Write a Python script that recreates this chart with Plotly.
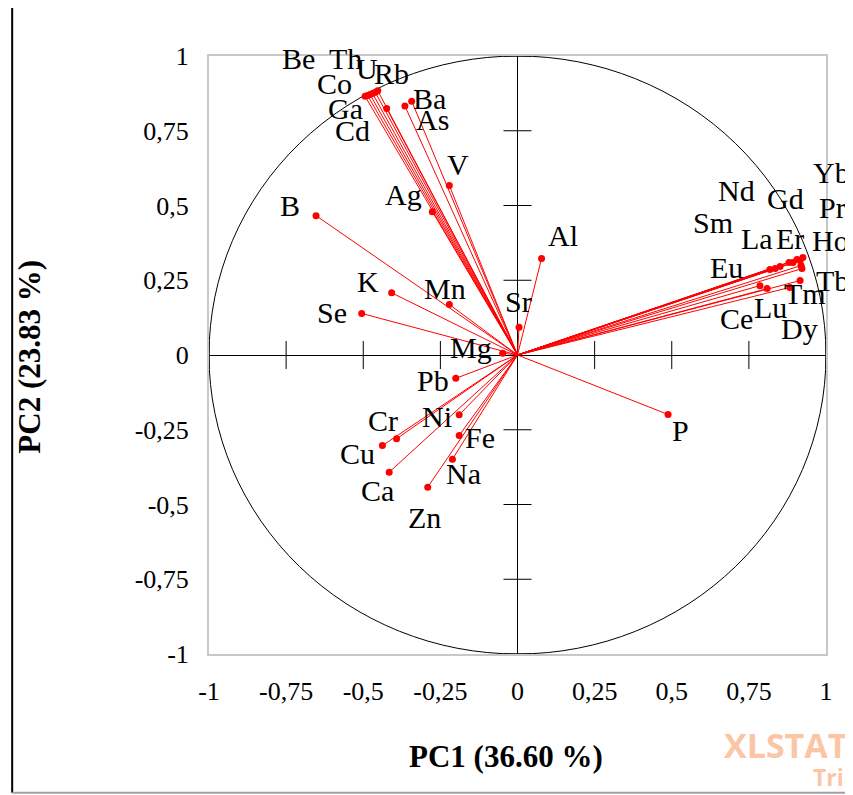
import plotly.graph_objects as go

# ---- data ----
variables = ["Be", "Th", "Co", "U", "Rb", "Ga", "Cd", "As", "Ba", "V", "Ag", "B", "Al", "K",
             "Mn", "Sr", "Se", "Mg", "Pb", "Ni", "Fe", "Cr", "Cu", "Na", "Ca", "Zn", "P",
             "Yb", "Pr", "Ho", "Gd", "Er", "Nd", "La", "Sm", "Eu", "Tb", "Tm", "Dy", "Lu", "Ce"]
pc1 = [-0.478, -0.470, -0.486, -0.461, -0.453, -0.494, -0.424, -0.365, -0.343, -0.221, -0.276,
       -0.653, 0.078, -0.408, -0.221, 0.005, -0.505, -0.048, -0.200, -0.189, -0.189, -0.392,
       -0.438, -0.211, -0.416, -0.291, 0.488,
       0.925, 0.916, 0.919, 0.906, 0.893, 0.880, 0.851, 0.835, 0.818, 0.922, 0.916, 0.883,
       0.809, 0.786]
pc2 = [0.871, 0.875, 0.868, 0.879, 0.884, 0.865, 0.824, 0.833, 0.849, 0.567, 0.479,
       0.466, 0.323, 0.208, 0.169, 0.093, 0.139, 0.006, -0.078, -0.200, -0.269, -0.280,
       -0.303, -0.349, -0.392, -0.442, -0.199,
       0.326, 0.316, 0.299, 0.319, 0.309, 0.309, 0.296, 0.289, 0.286, 0.289, 0.249, 0.226,
       0.222, 0.232]

tick_values = [-1, -0.75, -0.5, -0.25, 0, 0.25, 0.5, 0.75, 1]
tick_labels = ["-1", "-0,75", "-0,5", "-0,25", "0", "0,25", "0,5", "0,75", "1"]
x_title = "PC1 (36.60 %)"
y_title = "PC2 (23.83 %)"

# ---- label placement (pixel offsets from each point: dx right, dy down) ----
label_offsets = {
    "Be": (-72, -36), "Th": (-27, -35), "Co": (-33, -12), "U": (-8, -24), "Rb": (14, -17),
    "Ga": (-20, 12), "Cd": (-34, 22), "As": (28, 14), "Ba": (18, -3), "V": (9, -21),
    "Ag": (-29, -17), "B": (-26, -10), "Al": (21, -23), "K": (-24, -11), "Mn": (-4, -16),
    "Sr": (-1, -26), "Se": (-30, -1), "Mg": (-32, -6), "Pb": (-23, 2), "Ni": (-22, 2),
    "Fe": (21, 2), "Cr": (-14, -18), "Cu": (-25, 8), "Na": (11, 14), "Ca": (-12, 18),
    "Zn": (-3, 30), "P": (12, 16), "Yb": (29, -85), "Pr": (32, -53), "Ho": (29, -25),
    "Gd": (-12, -61), "Er": (-3, -24), "Nd": (-52, -72), "La": (-23, -28), "Sm": (-62, -46),
    "Eu": (-43, -2), "Tb": (31, 12), "Tm": (5, 13), "Dy": (10, 41), "Lu": (3, 19),
    "Ce": (-23, 33),
}

SERIF = "Liberation Serif, Times New Roman, serif"
RED = "#ff0000"

fig = go.Figure()

# vectors from origin
vx, vy = [], []
for a, b in zip(pc1, pc2):
    vx += [0, a, None]
    vy += [0, b, None]
fig.add_trace(go.Scatter(x=vx, y=vy, mode="lines", line=dict(color=RED, width=1),
                         hoverinfo="skip", showlegend=False))
fig.add_trace(go.Scatter(x=pc1, y=pc2, mode="markers", text=variables,
                         marker=dict(color=RED, size=7), showlegend=False))

# tick marks on the zero axes
inner_ticks = [t for t in tick_values if t != 0]
fig.add_trace(go.Scatter(x=[0] * len(inner_ticks), y=inner_ticks, mode="markers",
                         marker=dict(symbol="line-ew", size=20, line=dict(color="black", width=1)),
                         hoverinfo="skip", showlegend=False))
fig.add_trace(go.Scatter(x=inner_ticks, y=[0] * len(inner_ticks), mode="markers",
                         marker=dict(symbol="line-ns", size=20, line=dict(color="black", width=1)),
                         hoverinfo="skip", showlegend=False))

# correlation circle
fig.add_shape(type="circle", xref="x", yref="y", x0=-1, y0=-1, x1=1, y1=1,
              line=dict(color="black", width=1), layer="below")

# variable labels
for name, a, b in zip(variables, pc1, pc2):
    dx, dy = label_offsets[name]
    fig.add_annotation(x=a, y=b, text=name, showarrow=False, xshift=dx, yshift=-dy,
                       font=dict(family=SERIF, size=30, color="black"))

# axis titles
fig.add_annotation(xref="paper", yref="paper", x=0.482, y=-0.172, text="<b>%s</b>" % x_title,
                   showarrow=False, xanchor="center", yanchor="middle",
                   font=dict(family=SERIF, size=31, color="black"))
fig.add_annotation(xref="paper", yref="paper", x=-0.291, y=0.498, text="<b>%s</b>" % y_title,
                   showarrow=False, xanchor="center", yanchor="middle", textangle=-90,
                   font=dict(family=SERIF, size=31, color="black"))

# watermark
fig.add_annotation(xref="paper", yref="paper", x=0.831, y=-0.152, text="<b>XLSTAT</b>",
                   showarrow=False, xanchor="left", yanchor="middle",
                   font=dict(family="Open Sans, Arial, sans-serif", size=34, color="#fac6a6"))
fig.add_annotation(xref="paper", yref="paper", x=0.975, y=-0.205, text="<b>Trial</b>",
                   showarrow=False, xanchor="left", yanchor="middle",
                   font=dict(family="Open Sans, Arial, sans-serif", size=23, color="#fac6a6"))

# outer frame of the picture
fig.add_shape(type="line", xref="paper", yref="paper", x0=-0.319, x1=-0.319, y0=-0.232, y1=1.085,
              line=dict(color="black", width=2))
fig.add_shape(type="line", xref="paper", yref="paper", x0=-0.319, x1=1.2, y0=1.085, y1=1.085,
              line=dict(color="black", width=2))
fig.add_shape(type="line", xref="paper", yref="paper", x0=-0.319, x1=1.2, y0=-0.232, y1=-0.232,
              line=dict(color="#a0a0a0", width=2))

axis_common = dict(
    range=[-1, 1], showgrid=False, zeroline=True, zerolinecolor="black", zerolinewidth=1,
    showline=True, linecolor="#c8c8c8", linewidth=2, mirror=True,
    tickvals=tick_values, ticktext=tick_labels, ticks="",
    tickfont=dict(family=SERIF, size=26, color="black"),
)
fig.update_xaxes(**axis_common, ticklabelstandoff=13)
fig.update_yaxes(**axis_common, ticklabelstandoff=13)

fig.update_layout(
    width=845, height=787, autosize=False,
    margin=dict(l=201, r=27, t=48, b=141),
    plot_bgcolor="white", paper_bgcolor="white",
    showlegend=False,
)

fig.write_html("out.html")
